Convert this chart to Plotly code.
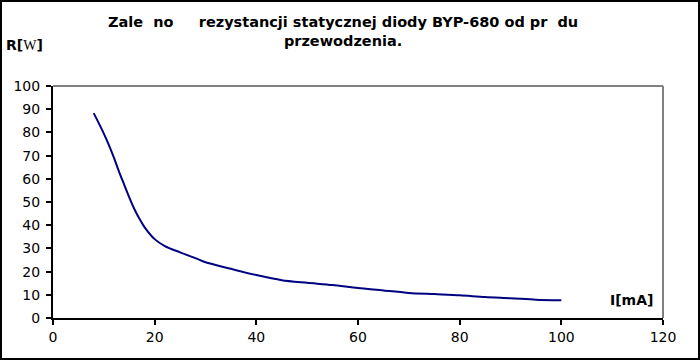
import plotly.graph_objects as go

# Data
current_mA = [8, 9, 10, 11, 12, 13, 14, 15, 16, 17, 18, 20, 22, 25, 28, 30, 35,
              40, 45, 50, 55, 60, 65, 70, 75, 80, 85, 90, 95, 100]
resistance = [88.3, 84.0, 79.5, 74.5, 69.0, 63.0, 57.5, 52.0, 47.0, 42.8, 39.2,
              34.0, 31.0, 28.3, 25.8, 24.0, 21.2, 18.5, 16.3, 15.2, 14.2, 12.9,
              11.9, 10.8, 10.3, 9.8, 9.0, 8.5, 7.9, 7.6]

x_ticks = [0, 20, 40, 60, 80, 100, 120]
y_ticks = [0, 10, 20, 30, 40, 50, 60, 70, 80, 90, 100]

title_text = ("Zale  no     rezystancji statycznej diody BYP-680 od pr  du"
              "<br>przewodzenia.")

W, H = 700, 360
L, R, T, B = 53, 37, 86, 42
pw, ph = W - L - R, H - T - B

def px_to_paper_x(px):
    return (px - L) / pw

def px_to_paper_y(py):
    return (H - B - py) / ph

fig = go.Figure()
fig.add_trace(go.Scatter(
    x=current_mA, y=resistance, mode="lines",
    line=dict(color="#000080", width=2, shape="spline", smoothing=0.8),
    hoverinfo="skip", showlegend=False,
))

axis_font = dict(family="DejaVu Sans", size=14, color="black")

fig.update_layout(
    width=W, height=H,
    margin=dict(l=L, r=R, t=T, b=B, autoexpand=False),
    paper_bgcolor="white", plot_bgcolor="white",
    showlegend=False,
    xaxis=dict(range=[0, 120], tickvals=x_ticks, showgrid=False, zeroline=False,
               showline=True, linecolor="black", linewidth=2, automargin=False,
               ticks="outside", ticklen=5, tickwidth=2, tickcolor="black",
               tickfont=axis_font),
    yaxis=dict(range=[0, 100], tickvals=y_ticks, showgrid=False, zeroline=False,
               showline=True, linecolor="black", linewidth=2, automargin=False,
               ticks="outside", ticklen=5, tickwidth=2, tickcolor="black",
               tickfont=axis_font, ticklabelstandoff=3),
)

# gray frame on top and right of plot area
fig.add_shape(type="line", xref="paper", yref="paper", x0=0, x1=1, y0=1, y1=1,
              line=dict(color="#808080", width=2))
fig.add_shape(type="line", xref="paper", yref="paper", x0=1, x1=1, y0=0, y1=1,
              line=dict(color="#808080", width=2))

# outer black border around the whole image
fig.add_shape(type="rect", xref="paper", yref="paper",
              x0=px_to_paper_x(1), x1=px_to_paper_x(699),
              y0=px_to_paper_y(359), y1=px_to_paper_y(1),
              line=dict(color="black", width=2), layer="below")

fig.add_annotation(text=title_text, xref="paper", yref="paper",
                   x=px_to_paper_x(343), y=px_to_paper_y(31),
                   xanchor="center", yanchor="middle", showarrow=False,
                   font=dict(family="DejaVu Sans", size=14.5, color="black",
                             weight="bold"))

fig.add_annotation(text='R[<span style="font-family:Liberation Serif;font-weight:normal">W</span>]',
                   xref="paper", yref="paper",
                   x=px_to_paper_x(4), y=px_to_paper_y(45),
                   xanchor="left", yanchor="middle", showarrow=False,
                   font=dict(family="DejaVu Sans", size=14, color="black",
                             weight="bold"))

fig.add_annotation(text="I[mA]", xref="paper", yref="paper",
                   x=px_to_paper_x(655), y=px_to_paper_y(300),
                   xanchor="right", yanchor="middle", showarrow=False,
                   font=dict(family="DejaVu Sans", size=14, color="black",
                             weight="bold"))

fig.write_html("out.html",
               config={"displayModeBar": False, "staticPlot": True},
               post_script="document.body.style.margin='0';document.body.style.padding='0';")
